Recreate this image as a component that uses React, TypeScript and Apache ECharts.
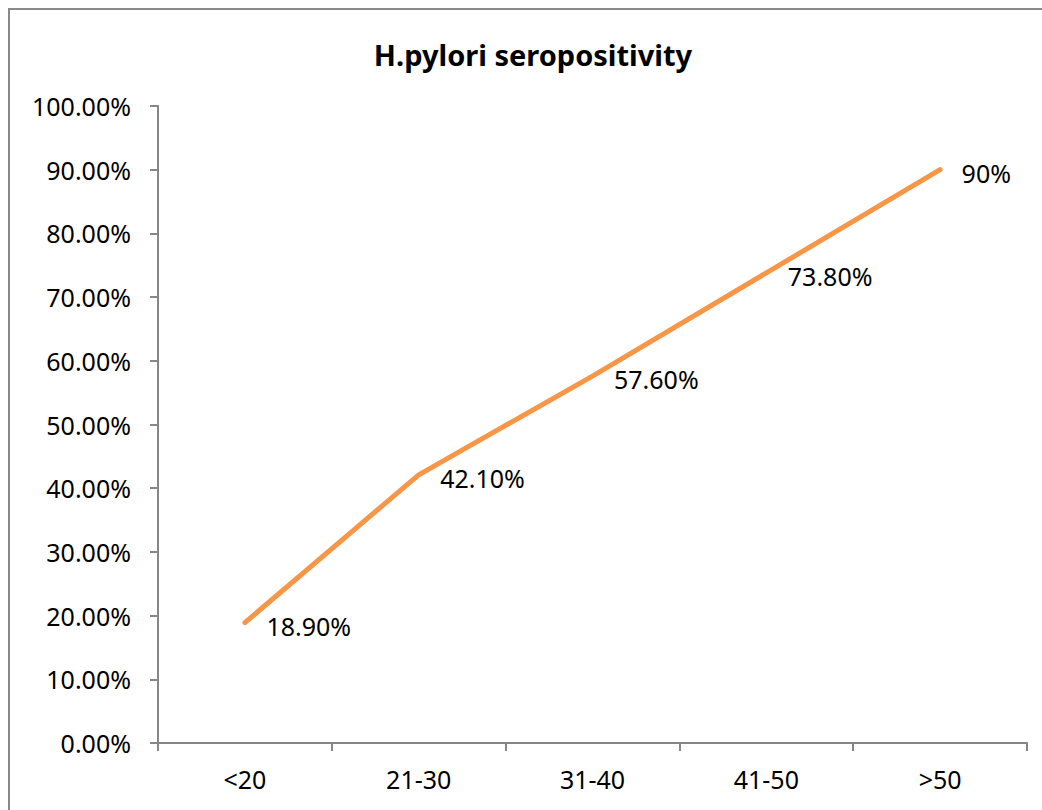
import React, { useEffect, useRef } from "react";
import * as echarts from "echarts";

const categories = ["<20", "21-30", "31-40", "41-50", ">50"];
const values = [0.189, 0.421, 0.576, 0.738, 0.9];
const valueLabels = ["18.90%", "42.10%", "57.60%", "73.80%", "90%"];
const titleText = "H.pylori seropositivity";

const FONT = "'Noto Sans', 'Open Sans', sans-serif";

export default function App() {
  const ref = useRef<HTMLDivElement>(null);
  useEffect(() => {
    if (!ref.current) return;
    const chart = echarts.init(ref.current, null, { renderer: "svg" });
    chart.setOption({
      animation: false,
      backgroundColor: "#ffffff",
      title: {
        text: titleText,
        left: 528,
        top: 35,
        textAlign: "center",
        textStyle: { fontFamily: FONT, fontWeight: "bold", fontSize: 29, color: "#000" },
      },
      graphic: [
        {
          type: "rect",
          shape: { x: 9, y: 9, width: 1040, height: 820 },
          style: { fill: "none", stroke: "#898989", lineWidth: 2 },
          silent: true,
        },
      ],
      grid: { left: 158, right: 15, top: 106, bottom: 67, containLabel: false },
      xAxis: {
        type: "category",
        data: categories,
        boundaryGap: true,
        axisLine: { lineStyle: { color: "#868686", width: 2 } },
        axisTick: { show: true, length: 8, alignWithLabel: false, lineStyle: { color: "#868686", width: 2 } },
        axisLabel: { color: "#000", fontFamily: FONT, fontSize: 25, margin: 23 },
        splitLine: { show: false },
      },
      yAxis: {
        type: "value",
        min: 0,
        max: 1,
        interval: 0.1,
        axisLine: { show: true, lineStyle: { color: "#868686", width: 2 } },
        axisTick: { show: true, length: 8, lineStyle: { color: "#868686", width: 2 } },
        splitLine: { show: false },
        axisLabel: {
          color: "#000",
          fontFamily: FONT,
          fontSize: 25,
          margin: 27,
          formatter: (v: number) => (v * 100).toFixed(2) + "%",
        },
      },
      series: [
        {
          type: "line",
          data: values.map((v, i) => ({ value: v, label: { formatter: valueLabels[i] } })),
          symbol: "circle",
          symbolSize: 1,
          itemStyle: { color: "#F79646" },
          lineStyle: { color: "#F79646", width: 5, cap: "round", join: "round" },
          label: {
            show: true,
            position: "right",
            distance: 21,
            offset: [0, 3],
            color: "#000",
            fontFamily: FONT,
            fontSize: 25,
          },
        },
      ],
    });
    return () => chart.dispose();
  }, []);
  return (
    <div
      ref={ref}
      style={{ position: "fixed", left: 0, top: 0, width: 1042, height: 810 }}
    />
  );
}
